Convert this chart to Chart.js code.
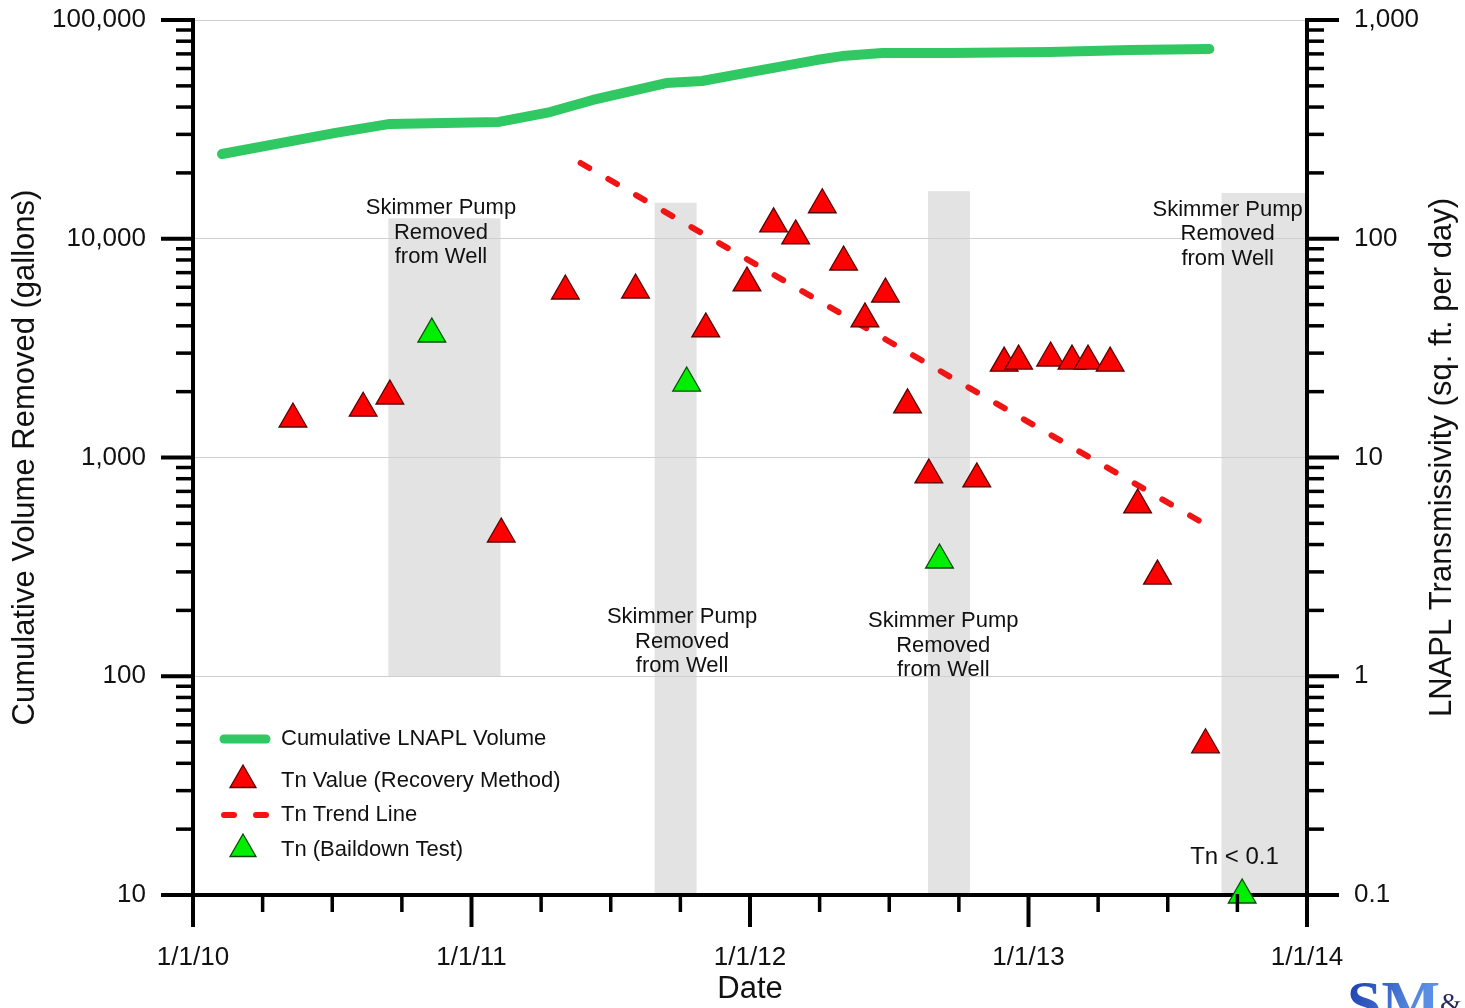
<!DOCTYPE html>
<html>
<head>
<meta charset="utf-8">
<title>LNAPL Recovery and Transmissivity</title>
<script src="https://cdn.jsdelivr.net/npm/chart.js@4.4.0/dist/chart.umd.min.js"></script>
<style>
  html, body { margin: 0; padding: 0; background: #ffffff; }
  #wrap { position: relative; width: 1465px; height: 1008px; }
</style>
</head>
<body>
<div id="wrap"><canvas id="chart" width="1465" height="1008"></canvas></div>
<script>
const FONT = '"Liberation Sans", Arial, Helvetica, sans-serif';

// Cumulative LNAPL volume recovered (gallons, left axis)
const volumeDates = ['2010-02-08', '2010-07-05', '2010-09-16', '2011-02-06', '2011-04-14', '2011-06-09',
  '2011-09-13', '2011-10-30', '2012-01-01', '2012-03-28', '2012-05-01', '2012-06-23', '2012-09-19',
  '2013-01-29', '2013-05-14', '2013-08-26'];
const volumeGallons = [24400, 30400, 33500, 34200, 37950, 43100, 51500, 52600, 57800, 65600, 68400,
  70600, 70600, 71400, 72900, 73700];

// Tn from the recovery method (sq. ft. per day, right axis)
const recoveryDates = ['2010-05-12', '2010-08-12', '2010-09-16', '2011-02-09', '2011-05-04', '2011-08-04',
  '2011-11-04', '2011-12-28', '2012-02-01', '2012-03-01', '2012-04-05', '2012-05-03', '2012-05-31',
  '2012-06-27', '2012-07-26', '2012-08-23', '2012-10-25', '2012-11-30', '2012-12-19', '2013-01-30',
  '2013-02-27', '2013-03-20', '2013-04-18', '2013-05-24', '2013-06-19', '2013-08-21'];
const recoveryTn = [15.0, 16.8, 19.1, 4.47, 57.7, 58.3, 38.7, 62.8, 117, 103, 143, 78.3, 43.0,
  55.9, 17.4, 8.32, 7.98, 27.0, 27.6, 28.5, 27.6, 27.6, 27.0, 6.07, 2.87, 0.486];

// Tn from baildown tests (sq. ft. per day, right axis); last test was below 0.1
const baildownDates = ['2010-11-10', '2011-10-10', '2012-09-06', '2013-10-08'];
const baildownTn = [36.7, 21.9, 3.40, 0.1];

// Tn trend line end points (sq. ft. per day)
const trendDates = ['2011-05-24', '2013-08-13'];
const trendTn = [222, 5.13];

// Periods with the skimmer pump out of the well (extent in right-axis units)
const pumpOutStart = ['2010-09-14', '2011-08-29', '2012-08-22', '2013-09-11'];
const pumpOutEnd = ['2011-02-08', '2011-10-23', '2012-10-16', '2014-01-01'];
const pumpOutTop = [124, 146, 165, 162];
const pumpOutBottom = [1, 0.1, 0.1, 0.1];

// Axis tick values
const yearTicks = [2010, 2011, 2012, 2013, 2014];
const volumeTicks = [10, 100, 1000, 10000, 100000];
const tnTicks = [0.1, 1, 10, 100, 1000];

// Convert 'YYYY-MM-DD' into a fractional year for the linear date axis
function toYear(s) {
  const [y, m, d] = s.split('-').map(Number);
  const start = Date.UTC(y, 0, 1), end = Date.UTC(y + 1, 0, 1);
  return y + (Date.UTC(y, m - 1, d) - start) / (end - start);
}
function pts(dates, values) {
  return dates.map((d, i) => ({ x: toYear(d), y: values[i] }));
}

const COLORS = {
  volume: '#2fc862',
  recovery: '#ff0000',
  recoveryEdge: '#5a0000',
  baildown: '#00ee00',
  baildownEdge: '#0a4a0a',
  trend: '#f01414',
  shade: '#e3e3e3',
  grid: '#cfcfcf',
  ink: '#111111'
};

const notes = [
  { x: '2010-11-22', y: 138, lines: ['Skimmer Pump', 'Removed', 'from Well'] },
  { x: '2011-10-04', y: 1.86, lines: ['Skimmer Pump', 'Removed', 'from Well'] },
  { x: '2012-09-11', y: 1.79, lines: ['Skimmer Pump', 'Removed', 'from Well'] },
  { x: '2013-09-19', y: 136, lines: ['Skimmer Pump', 'Removed', 'from Well'] },
  { x: '2013-09-28', y: 0.148, lines: ['Tn < 0.1'] }
];

function triangle(ctx, x, y, r, fill, edge) {
  ctx.save();
  ctx.beginPath();
  for (let k = 0; k < 3; k++) {
    const a = k * 2 * Math.PI / 3;
    const px = x + Math.sin(a) * r, py = y - Math.cos(a) * r;
    if (k === 0) ctx.moveTo(px, py); else ctx.lineTo(px, py);
  }
  ctx.closePath();
  ctx.fillStyle = fill;
  ctx.fill();
  ctx.lineWidth = 1.3;
  ctx.strokeStyle = edge;
  ctx.stroke();
  ctx.restore();
}

// Shaded pump-removal periods, drawn beneath grid lines and data
const shadePlugin = {
  id: 'pumpShade',
  beforeDraw(chart) {
    const { ctx, scales: { x, yR } } = chart;
    ctx.save();
    ctx.fillStyle = COLORS.shade;
    pumpOutStart.forEach((s, i) => {
      const x0 = x.getPixelForValue(toYear(s));
      const x1 = x.getPixelForValue(toYear(pumpOutEnd[i]));
      const y0 = yR.getPixelForValue(pumpOutTop[i]);
      const y1 = yR.getPixelForValue(pumpOutBottom[i]);
      ctx.fillRect(x0, y0, x1 - x0, y1 - y0);
    });
    ctx.restore();
  }
};

// Major and minor tick marks on all three axes, notes, legend, right title and logo
const decorPlugin = {
  id: 'decor',
  afterDraw(chart) {
    const { ctx, scales: { x, yL, yR }, chartArea: ca } = chart;
    ctx.save();
    ctx.strokeStyle = '#000';
    ctx.lineCap = 'butt';
    const major = 32, minor = 17;

    const logMarks = (scale, lo, hi, draw) => {
      for (let d = lo; d <= hi * 1.0001; d *= 10) {
        for (let k = 1; k <= 9; k++) {
          const v = d * k;
          if (v > hi * 1.0001) break;
          draw(scale.getPixelForValue(v), k === 1 ? major : minor, k === 1);
        }
      }
    };
    logMarks(yL, 10, 100000, (py, len, isMajor) => {
      ctx.lineWidth = isMajor ? 4 : 3.5;
      ctx.beginPath(); ctx.moveTo(ca.left - len, py); ctx.lineTo(ca.left + 1, py); ctx.stroke();
    });
    logMarks(yR, 0.1, 1000, (py, len, isMajor) => {
      ctx.lineWidth = isMajor ? 4 : 3.5;
      ctx.beginPath(); ctx.moveTo(ca.right - 1, py); ctx.lineTo(ca.right + len, py); ctx.stroke();
    });
    for (let q = 0; q <= 16; q++) {
      const v = 2010 + q / 4;
      const px = x.getPixelForValue(v);
      const len = q % 4 === 0 ? major : minor;
      ctx.lineWidth = q % 4 === 0 ? 4 : 3.5;
      ctx.beginPath(); ctx.moveTo(px, ca.bottom - 1); ctx.lineTo(px, ca.bottom + len); ctx.stroke();
    }

    // Notes
    ctx.fillStyle = COLORS.ink;
    ctx.textAlign = 'center';
    ctx.textBaseline = 'middle';
    notes.forEach(n => {
      const px = x.getPixelForValue(toYear(n.x));
      const py = yR.getPixelForValue(n.y);
      ctx.font = (n.lines.length === 1 ? '24px ' : '22px ') + FONT;
      n.lines.forEach((t, i) => ctx.fillText(t, px, py + i * 24.5));
    });

    // Right axis title, reading bottom to top
    ctx.save();
    ctx.translate(1442, (ca.top + ca.bottom) / 2);
    ctx.rotate(-Math.PI / 2);
    ctx.font = '31px ' + FONT;
    ctx.fillText('LNAPL Transmissivity (sq. ft. per day)', 0, 0);
    ctx.restore();

    // Legend
    const lx = 220, tx = 281;
    const rows = [739, 781, 815, 850];
    ctx.lineCap = 'round';
    ctx.strokeStyle = COLORS.volume;
    ctx.lineWidth = 9;
    ctx.beginPath(); ctx.moveTo(lx + 4, rows[0]); ctx.lineTo(lx + 46, rows[0]); ctx.stroke();
    triangle(ctx, lx + 23, rows[1] - 1, 15, COLORS.recovery, COLORS.recoveryEdge);
    ctx.strokeStyle = COLORS.trend;
    ctx.lineWidth = 6;
    ctx.setLineDash([10, 22]);
    ctx.beginPath(); ctx.moveTo(lx + 4, rows[2]); ctx.lineTo(lx + 48, rows[2]); ctx.stroke();
    ctx.setLineDash([]);
    triangle(ctx, lx + 23, rows[3] - 1, 15, COLORS.baildown, COLORS.baildownEdge);
    ctx.fillStyle = COLORS.ink;
    ctx.font = '22px ' + FONT;
    ctx.textAlign = 'left';
    ['Cumulative LNAPL Volume', 'Tn Value (Recovery Method)', 'Tn Trend Line', 'Tn (Baildown Test)']
      .forEach((t, i) => ctx.fillText(t, tx, rows[i]));

    // Company mark in the corner
    const g = ctx.createLinearGradient(1350, 978, 1420, 1008);
    g.addColorStop(0, '#1c3fae');
    g.addColorStop(1, '#5b8fe6');
    ctx.fillStyle = g;
    ctx.font = 'bold 62px "Liberation Serif", "DejaVu Serif", serif';
    ctx.textBaseline = 'alphabetic';
    ctx.fillText('SM', 1347, 1023);
    ctx.fillStyle = '#2a2a5a';
    ctx.font = '28px "Liberation Serif", serif';
    ctx.fillText('&', 1440, 1012);
    ctx.restore();
  }
};

const tickFont = { family: FONT, size: 26 };
const titleFont = { family: FONT, size: 31 };

new Chart(document.getElementById('chart'), {
  type: 'scatter',
  data: {
    datasets: [
      {
        label: 'Tn Value (Recovery Method)',
        data: pts(recoveryDates, recoveryTn),
        yAxisID: 'yR',
        pointStyle: 'triangle',
        pointRadius: 16,
        backgroundColor: COLORS.recovery,
        borderColor: COLORS.recoveryEdge,
        borderWidth: 1.3,
        clip: false
      },
      {
        label: 'Tn (Baildown Test)',
        data: pts(baildownDates, baildownTn),
        yAxisID: 'yR',
        pointStyle: 'triangle',
        pointRadius: 16,
        backgroundColor: COLORS.baildown,
        borderColor: COLORS.baildownEdge,
        borderWidth: 1.3,
        clip: false
      },
      {
        label: 'Tn Trend Line',
        data: pts(trendDates, trendTn),
        yAxisID: 'yR',
        showLine: true,
        borderColor: COLORS.trend,
        borderWidth: 6,
        borderDash: [10, 22],
        borderCapStyle: 'round',
        pointRadius: 0,
        fill: false
      },
      {
        label: 'Cumulative LNAPL Volume',
        data: pts(volumeDates, volumeGallons),
        yAxisID: 'yL',
        showLine: true,
        borderColor: COLORS.volume,
        borderWidth: 10,
        borderCapStyle: 'round',
        borderJoinStyle: 'round',
        pointRadius: 0,
        tension: 0,
        fill: false
      }
    ]
  },
  options: {
    responsive: false,
    animation: false,
    events: [],
    layout: { padding: { top: 20, left: 0, right: 0, bottom: 0 } },
    plugins: { legend: { display: false }, tooltip: { enabled: false } },
    scales: {
      x: {
        type: 'linear',
        position: 'bottom',
        min: 2010,
        max: 2014,
        afterBuildTicks: s => { s.ticks = yearTicks.map(v => ({ value: v })); },
        afterFit: s => { s.height = 113; s.paddingLeft = 0; s.paddingRight = 0; },
        ticks: {
          autoSkip: false,
          maxRotation: 0,
          padding: 47,
          font: tickFont,
          color: COLORS.ink,
          callback: v => '1/1/' + String(v).slice(2)
        },
        grid: { drawOnChartArea: false, drawTicks: false },
        border: { display: true, color: '#000', width: 4 },
        title: { display: true, text: 'Date', font: titleFont, color: COLORS.ink, padding: { top: 0, bottom: 0 } }
      },
      yL: {
        type: 'logarithmic',
        position: 'left',
        min: 10,
        max: 100000,
        afterBuildTicks: s => { s.ticks = volumeTicks.map(v => ({ value: v })); },
        afterFit: s => { s.width = 193; s.paddingTop = 0; s.paddingBottom = 0; },
        ticks: {
          padding: 47,
          font: tickFont,
          color: COLORS.ink,
          callback: v => Number(v).toLocaleString('en-US')
        },
        grid: { drawOnChartArea: true, drawTicks: false, color: COLORS.grid, lineWidth: 1 },
        border: { display: true, color: '#000', width: 4 },
        title: {
          display: true,
          text: 'Cumulative Volume Removed (gallons)',
          font: titleFont,
          color: COLORS.ink,
          padding: { top: 7, bottom: 0 }
        }
      },
      yR: {
        type: 'logarithmic',
        position: 'right',
        min: 0.1,
        max: 1000,
        afterBuildTicks: s => { s.ticks = tnTicks.map(v => ({ value: v })); },
        afterFit: s => { s.width = 158; s.paddingTop = 0; s.paddingBottom = 0; },
        ticks: {
          padding: 47,
          font: tickFont,
          color: COLORS.ink,
          callback: v => Number(v).toLocaleString('en-US')
        },
        grid: { drawOnChartArea: false, drawTicks: false },
        border: { display: true, color: '#000', width: 4 },
        title: { display: false }
      }
    }
  },
  plugins: [shadePlugin, decorPlugin]
});
</script>
</body>
</html>
